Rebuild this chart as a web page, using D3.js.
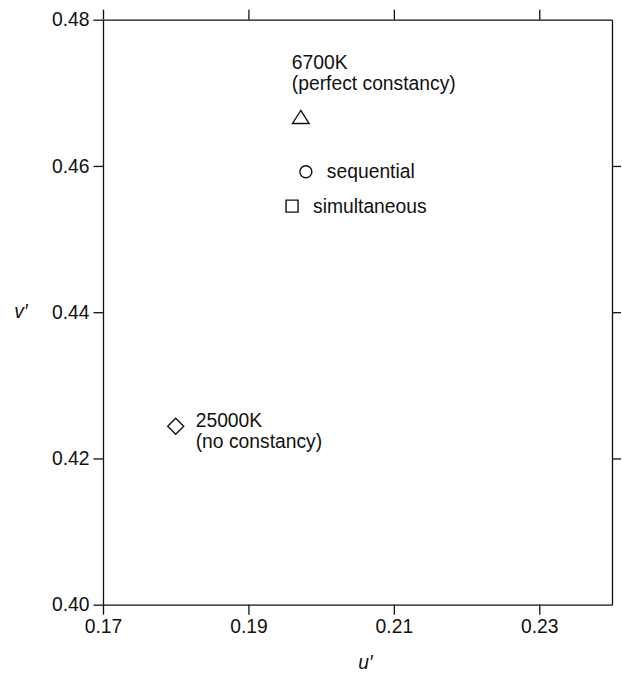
<!DOCTYPE html>
<html>
<head>
<meta charset="utf-8">
<script src="https://cdn.jsdelivr.net/npm/d3@7"></script>
<style>
    body { margin: 0; background: #fff; }
    svg text { font-family: "Liberation Sans", Arial, Helvetica, sans-serif; fill: #111; }
</style>
</head>
<body>
<svg class="chart"></svg>
<script>
// chromaticity points
const names = [`6700K`, `sequential`, `simultaneous`, `25000K`];
const uValues = [0.1972, 0.1979, 0.1960, 0.1800];
const vValues = [0.4667, 0.4592, 0.4545, 0.4244];
const shapes = [`triangle`, `circle`, `square`, `diamond`];
const labels = [
    [`6700K`, `(perfect constancy)`],
    [`sequential`],
    [`simultaneous`],
    [`25000K`, `(no constancy)`]
];
const xTicks = [0.17, 0.19, 0.21, 0.23];
const yTicks = [0.40, 0.42, 0.44, 0.46, 0.48];

const width = 622;
const height = 677;
const margin = { top: 19.7, right: 10, bottom: 72.3, left: 103 };
const fontSize = 19.3;
const ink = `#111`;

// where each label sits relative to its mark (dx, dy of the first line)
const labelOffset = {
    '6700K': [-9, -48],
    'sequential': [21, 6],
    'simultaneous': [21, 7],
    '25000K': [20, 1]
};

const data = names.map((name, i) => ({
    name,
    u: uValues[i],
    v: vValues[i],
    shape: shapes[i],
    label: labels[i]
}));

const xScale = d3.scaleLinear()
    .domain([0.17, 0.24])
    .range([margin.left, width - margin.right]);

const yScale = d3.scaleLinear()
    .domain([0.40, 0.48])
    .range([height - margin.bottom, margin.top]);

const chart = d3.select(`.chart`)
    .attr(`width`, width)
    .attr(`height`, height);

const fmt = d3.format(`.2f`);

const styleAxis = (g) => {
    g.selectAll(`.domain`).attr(`stroke`, ink).attr(`stroke-width`, 1.3);
    g.selectAll(`.tick line`).attr(`stroke`, ink).attr(`stroke-width`, 1.3);
    g.selectAll(`.tick text`)
        .attr(`font-size`, fontSize)
        .attr(`font-family`, `"Liberation Sans", Arial, sans-serif`)
        .attr(`fill`, ink);
};

chart.append(`g`)
    .attr(`transform`, `translate(0, ${yScale(0.40)})`)
    .call(d3.axisBottom(xScale).tickValues(xTicks).tickFormat(fmt)
        .tickSize(10).tickSizeOuter(0).tickPadding(5))
    .call(styleAxis);

chart.append(`g`)
    .attr(`transform`, `translate(0, ${yScale(0.48)})`)
    .call(d3.axisTop(xScale).tickValues(xTicks).tickFormat(``)
        .tickSize(10).tickSizeOuter(0))
    .call(styleAxis);

chart.append(`g`)
    .attr(`transform`, `translate(${xScale(0.17)}, 0)`)
    .call(d3.axisLeft(yScale).tickValues(yTicks).tickFormat(fmt)
        .tickSize(9.5).tickSizeOuter(0).tickPadding(4))
    .call(styleAxis);

chart.append(`g`)
    .attr(`transform`, `translate(${xScale(0.24)}, 0)`)
    .call(d3.axisRight(yScale).tickValues(yTicks.slice(1, -1)).tickFormat(``)
        .tickSize(9).tickSizeOuter(0))
    .call(styleAxis);

// marker shapes, drawn around (0,0)
const shapePath = {
    triangle: `M0,-6.5L8.3,6.5L-8.3,6.5Z`,
    circle: d3.symbol(d3.symbolCircle, Math.PI * 6 * 6)(),
    square: `M-6,-6H6V6H-6Z`,
    diamond: `M0,-8L8,0L0,8L-8,0Z`
};

chart.selectAll(`path.mark`)
    .data(data)
    .enter()
    .append(`path`)
    .attr(`class`, `mark`)
    .attr(`transform`, d => `translate(${xScale(d.u)}, ${yScale(d.v)})`)
    .attr(`d`, d => shapePath[d.shape])
    .attr(`fill`, `none`)
    .attr(`stroke`, ink)
    .attr(`stroke-width`, 1.4);

const pointText = chart.selectAll(`text.label`)
    .data(data)
    .enter()
    .append(`text`)
    .attr(`class`, `label`)
    .attr(`font-size`, fontSize)
    .attr(`x`, d => xScale(d.u) + labelOffset[d.name][0])
    .attr(`y`, d => yScale(d.v) + labelOffset[d.name][1]);

pointText.selectAll(`tspan`)
    .data(d => d.label.map(line => ({ line, x: xScale(d.u) + labelOffset[d.name][0] })))
    .enter()
    .append(`tspan`)
    .attr(`x`, t => t.x)
    .attr(`dy`, (t, i) => i === 0 ? 0 : 21)
    .text(t => t.line);

chart.append(`text`)
    .attr(`font-size`, fontSize)
    .attr(`font-style`, `italic`)
    .attr(`text-anchor`, `middle`)
    .attr(`x`, (xScale(0.17) + xScale(0.24)) / 2 + 8)
    .attr(`y`, 669)
    .text(`u′`);

chart.append(`text`)
    .attr(`font-size`, fontSize)
    .attr(`font-style`, `italic`)
    .attr(`text-anchor`, `middle`)
    .attr(`x`, 21)
    .attr(`y`, yScale(0.44) + 6)
    .text(`v′`);
</script>
</body>
</html>
